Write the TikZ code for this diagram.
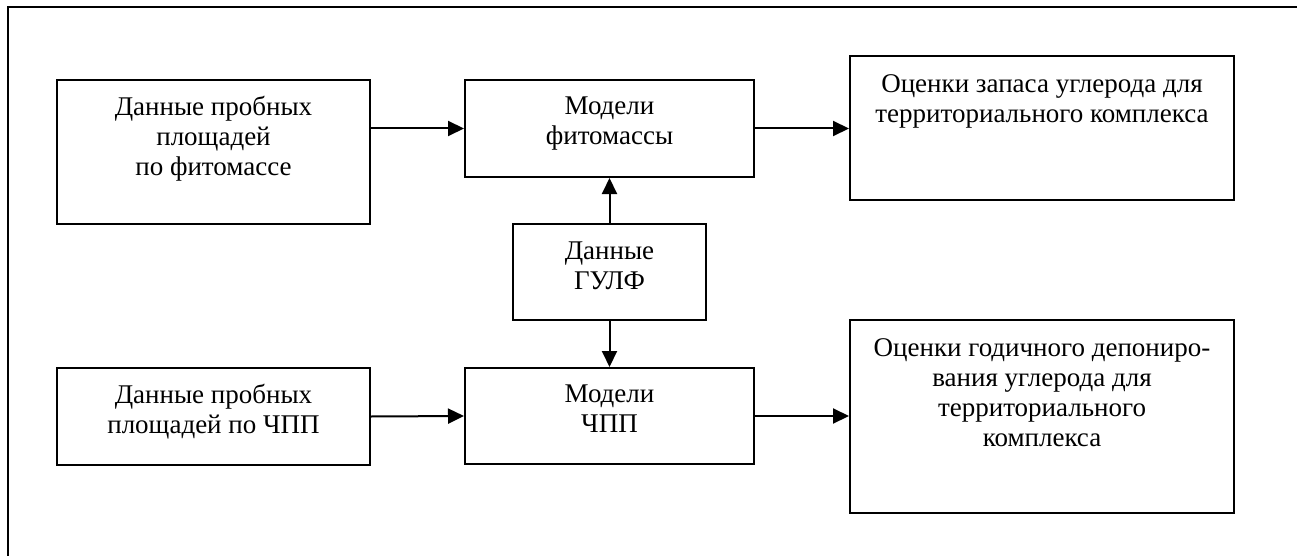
\documentclass[tikz,border=0pt]{standalone}
\usepackage{fontspec}
\setmainfont{Liberation Serif}
\usetikzlibrary{arrows.meta,calc}
\begin{document}
\begin{tikzpicture}[x=1pt,y=-1pt,
  box/.style={draw,line width=2pt,inner sep=0pt,anchor=north west},
  txt/.style={inner sep=0pt,anchor=north,align=center,font=\fontsize{27}{30}\selectfont},
  arr/.style={line width=2pt,-{Triangle[length=16pt,width=15pt]}},
  frame/.style={line width=2pt}]
\useasboundingbox (0,0) rectangle (1297,556);
\coordinate (fa) at (8,556);
\coordinate (fb) at (8,7);
\coordinate (fc) at (1297,7);
\draw[frame] (fa) -- (fb) -- (fc);
% boxes
\node[box,minimum width=313,minimum height=144] (b1) at (56,79) {};
\node[box,minimum width=289,minimum height=97] (m1) at (464,79) {};
\node[box,minimum width=384,minimum height=144] (o1) at (849,55) {};
\node[box,minimum width=193,minimum height=96] (g) at (512,223) {};
\node[box,minimum width=313,minimum height=97] (b2) at (56,367) {};
\node[box,minimum width=289,minimum height=96] (m2) at (464,367) {};
\node[box,minimum width=384,minimum height=193] (o2) at (849,319) {};
% texts
\node[txt] (t1) at ($(b1.north)+(0,15)$) {\strut Данные пробных\\площадей\\по фитомассе};
\node[txt] (t2) at ($(m1.north)+(0,14)$) {\strut Модели\\фитомассы};
\node[txt] (t3) at ($(o1.north)+(0,16)$) {\strut Оценки запаса углерода для\\территориального комплекса};
\node[txt] (t4) at ($(g.north)+(0,15)$) {\strut Данные\\ГУЛФ};
\node[txt] (t5) at ($(b2.north)+(0,15)$) {\strut Данные пробных\\площадей по ЧПП};
\node[txt] (t6) at ($(m2.north)+(0,14)$) {\strut Модели\\ЧПП};
\node[txt] (t7) at ($(o2.north)+(0,16)$) {\strut Оценки годичного депониро-\\вания углерода для\\территориального\\комплекса};
% arrows
\draw[arr] (b1.east |- m1.west) -- (m1.west);
\draw[arr] (m1.east) -- (m1.east -| o1.west);
\draw[arr] (g.north) -- (m1.south);
\draw[arr] (g.south) -- (m2.north);
\draw[arr] (b2.east) -- (m2.west);
\draw[arr] (m2.east) -- (m2.east -| o2.west);
\end{tikzpicture}
\end{document}
